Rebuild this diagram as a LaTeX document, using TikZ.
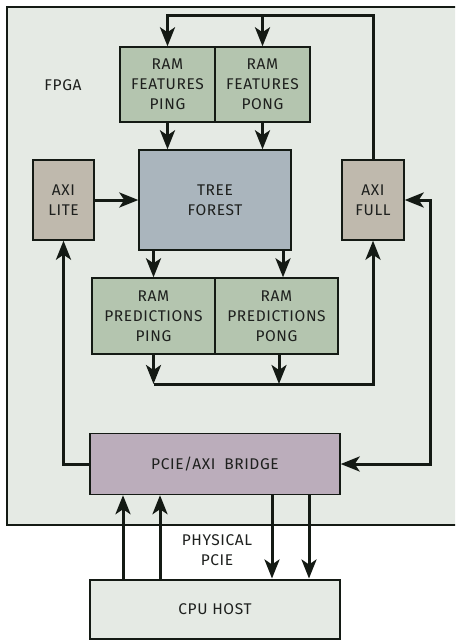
\documentclass[tikz,border=0pt]{standalone}
\usepackage{fontspec}
\setmainfont[LetterSpace=4]{Fira Sans}
\usetikzlibrary{arrows.meta}
\definecolor{fpgafill}{HTML}{E5EAE4}
\definecolor{ramfill}{HTML}{B4C5AF}
\definecolor{treefill}{HTML}{AAB5BD}
\definecolor{axifill}{HTML}{BFB9AD}
\definecolor{bridgefill}{HTML}{BBADBB}
\definecolor{edge}{HTML}{141A14}
\definecolor{txt}{HTML}{1E201E}
\tikzset{
  x=1pt,y=-1pt,
  lbl/.style={text=txt,font=\fontsize{15.5}{20}\selectfont},
  blk/.style={lbl,draw=edge,line width=1.4pt,inner sep=0pt,align=center},
  arr/.style={draw=edge,line width=3pt,-{Stealth[length=19pt,width=15pt,inset=5pt]}},
  arrb/.style={draw=edge,line width=3pt,{Stealth[length=19pt,width=15pt,inset=5pt]}-{Stealth[length=19pt,width=15pt,inset=5pt]}},
}
\begin{document}
\begin{tikzpicture}
\useasboundingbox (0,0) rectangle (455,642);
\clip (0,0) rectangle (455,642);
\fill[white] (0,0) rectangle (455,642);
\draw[draw=edge,fill=fpgafill,line width=2pt] (7,7) rectangle (480,525);
\node[lbl] (fpga) at (63,85) {FPGA};

\node[blk,fill=ramfill,minimum width=95,minimum height=75] (fping) at (167.5,84.5) {RAM\\FEATURES\\PING};
\node[blk,fill=ramfill,minimum width=95,minimum height=75] (fpong) at (262.5,84.5) {RAM\\FEATURES\\PONG};
\node[blk,fill=treefill,minimum width=152,minimum height=100] (tree) at (215,200) {TREE\\FOREST};
\node[blk,fill=axifill,minimum width=61,minimum height=80] (axil) at (63.5,200) {AXI\\LITE};
\node[blk,fill=axifill,minimum width=62,minimum height=80] (axif) at (373,200) {AXI\\FULL};
\node[blk,fill=ramfill,minimum width=123,minimum height=76] (pping) at (153.5,316) {RAM\\PREDICTIONS\\PING};
\node[blk,fill=ramfill,minimum width=123,minimum height=76] (ppong) at (276.5,316) {RAM\\PREDICTIONS\\PONG};
\node[blk,fill=bridgefill,minimum width=250,minimum height=61] (bridge) at (215,464) {PCIE/AXI\hspace{4pt} BRIDGE};
\node[blk,fill=fpgafill,line width=2pt,minimum width=250,minimum height=59] (cpu) at (215,609) {CPU HOST};
\node[lbl,align=center] (phys) at (217,550) {PHYSICAL\\PCIE};

% top loop
\coordinate (topL) at (167.5,16);
\draw[arr] (axif.north) |- (topL) -- (fping.north);
\draw[arr] (fpong.north |- topL) -- (fpong.north);
\draw[arr] (fping.south) -- (fping.south |- tree.north);
\draw[arr] (fpong.south) -- (fpong.south |- tree.north);
\draw[arr] (axil.east) -- (tree.west);
% tree to predictions
\draw[arr] (tree.south -| pping.north) -- (pping.north);
\coordinate (tp) at (283,250);
\draw[arr] (tp) -- (tp |- ppong.north);
% predictions to axi full
\coordinate (bl) at (153.5,384);
\coordinate (pp) at (279,354);
\draw[arr] (pping.south) -- (bl);
\draw[arr] (pp) -- (pp |- bl);
\draw[arr] (bl) -| (axif.south);
% bridge to axi lite
\draw[arr] (bridge.west) -| (axil.south);
% axi full <-> bridge
\coordinate (rr) at (430,200);
\draw[arrb] (axif.east) -- (rr) |- (bridge.east);
% pcie
\coordinate (u1) at (123,0);
\coordinate (u2) at (160,0);
\coordinate (d1) at (272,0);
\coordinate (d2) at (309,0);
\draw[arr] (u1 |- cpu.north) -- (u1 |- bridge.south);
\draw[arr] (u2 |- cpu.north) -- (u2 |- bridge.south);
\draw[arr] (d1 |- bridge.south) -- (d1 |- cpu.north);
\draw[arr] (d2 |- bridge.south) -- (d2 |- cpu.north);
\end{tikzpicture}
\end{document}
